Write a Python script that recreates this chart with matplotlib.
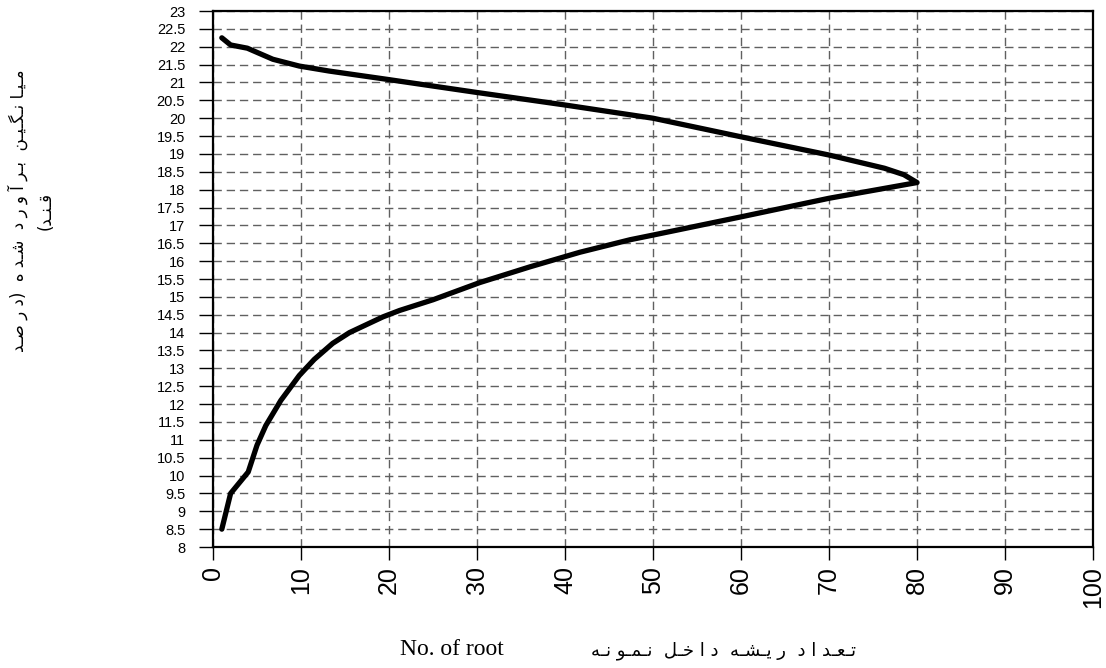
"""Root count vs. estimated sugar percentage"""
import numpy as np
import matplotlib
matplotlib.use("Agg")
import matplotlib.pyplot as plt
from matplotlib.ticker import MultipleLocator

# lower branch (rising to the peak) then upper branch (back to the axis)
roots = [1, 2, 4, 5, 6, 7.7, 9.8, 11.5, 13.6, 15.5, 17.4, 19.3, 21.2, 25,
         30.3, 36, 41.7, 47.4, 50, 60, 70, 80,
         78.5, 76.3, 70, 60, 50, 40, 30, 20, 13.2, 9.8, 6.8, 3.9, 2, 1]
sugar = [8.5, 9.5, 10.1, 10.85, 11.4, 12.1, 12.8, 13.25, 13.7, 14.0, 14.22,
         14.44, 14.62, 14.92, 15.4, 15.84, 16.25, 16.6, 16.73, 17.24, 17.76,
         18.2,
         18.42, 18.6, 18.97, 19.48, 20.0, 20.37, 20.72, 21.08, 21.32, 21.46,
         21.65, 21.96, 22.05, 22.25]

xlabel_fa = "تعداد ریشه داخل نمونه"
xlabel_en = "No. of root"
ylabel_fa = "میانگین برآورد شده (درصد\nقند)"

# contextual forms: (isolated, final, initial, medial)
FORMS = {
    "ا": (0xFE8D, 0xFE8E), "آ": (0xFE81, 0xFE82),
    "د": (0xFEA9, 0xFEAA), "ر": (0xFEAD, 0xFEAE), "و": (0xFEED, 0xFEEE),
    "ب": (0xFE8F, 0xFE90, 0xFE91, 0xFE92), "ت": (0xFE95, 0xFE96, 0xFE97, 0xFE98),
    "خ": (0xFEA5, 0xFEA6, 0xFEA7, 0xFEA8), "ش": (0xFEB5, 0xFEB6, 0xFEB7, 0xFEB8),
    "ص": (0xFEB9, 0xFEBA, 0xFEBB, 0xFEBC), "ع": (0xFEC9, 0xFECA, 0xFECB, 0xFECC),
    "ق": (0xFED5, 0xFED6, 0xFED7, 0xFED8), "ل": (0xFEDD, 0xFEDE, 0xFEDF, 0xFEE0),
    "م": (0xFEE1, 0xFEE2, 0xFEE3, 0xFEE4), "ن": (0xFEE5, 0xFEE6, 0xFEE7, 0xFEE8),
    "ه": (0xFEE9, 0xFEEA, 0xFEEB, 0xFEEC), "ی": (0xFBFC, 0xFBFD, 0xFBFE, 0xFBFF),
    "گ": (0xFB92, 0xFB93, 0xFB94, 0xFB95),
}
MIRROR = {"(": ")", ")": "("}
TATWEEL = "\u0640"


def shape_line(text, stretch=False):
    """Join letters and put the line in visual (left to right) order.
    stretch spreads the word out the way the source does (kashida + gaps)"""
    out = []
    for i, ch in enumerate(text):
        if ch not in FORMS:
            out.append(ch * (2 if stretch and ch == " " else 1))
            continue
        prev = text[i - 1] if i > 0 else ""
        nxt = text[i + 1] if i + 1 < len(text) else ""
        f = FORMS[ch]
        join_prev = prev in FORMS and len(FORMS[prev]) == 4
        join_next = len(f) == 4 and nxt in FORMS
        if join_prev and join_next:
            out.append(chr(f[3]))
        elif join_prev:
            out.append(chr(f[1]))
        elif join_next:
            out.append(chr(f[2]))
        else:
            out.append(chr(f[0]))
        if stretch and nxt in FORMS:
            out.append(TATWEEL if join_next else " ")
    return "".join(MIRROR.get(c, c) for c in reversed(out))


def shape(text, stretch=False):
    return "\n".join(shape_line(s, stretch) for s in text.split("\n"))


fig = plt.figure(figsize=(11.06, 6.68), dpi=100)
ax = fig.add_axes([0.1926, 0.1811, 0.7957, 0.8024])

ax.plot(roots, sugar, color="black", lw=3.8, solid_joinstyle="round",
        solid_capstyle="round", zorder=3)

ax.set_xlim(0, 100)
ax.set_ylim(8, 23)
ax.xaxis.set_major_locator(MultipleLocator(10))
ax.yaxis.set_major_locator(MultipleLocator(0.5))
ax.yaxis.set_major_formatter(plt.FuncFormatter(lambda v, p: f"{v:g}"))
ax.grid(True, color="#606060", lw=1.0, linestyle=(0, (6, 3.5)))
ax.set_axisbelow(True)
for s in ax.spines.values():
    s.set_linewidth(1.6)

ax.tick_params(axis="y", direction="out", length=10, width=1.0, pad=10,
               labelsize=10.5)
ax.tick_params(axis="x", direction="out", length=9, width=1.0, pad=5,
               labelsize=18, labelrotation=90)
for lab in ax.get_xticklabels() + ax.get_yticklabels():
    lab.set_fontfamily("Liberation Sans")

fig.text(0.409, 0.028, xlabel_en, family="Liberation Serif", fontsize=17,
         ha="center", va="center")
fig.text(0.654, 0.026, shape(xlabel_fa, True), family="DejaVu Sans",
         fontsize=13, ha="center", va="center")
fig.text(0.028, 0.684, shape(ylabel_fa, True), family="DejaVu Sans",
         fontsize=12, rotation=90, ha="center", va="center",
         multialignment="center", linespacing=1.6)

fig.savefig("out.png", dpi=100)
